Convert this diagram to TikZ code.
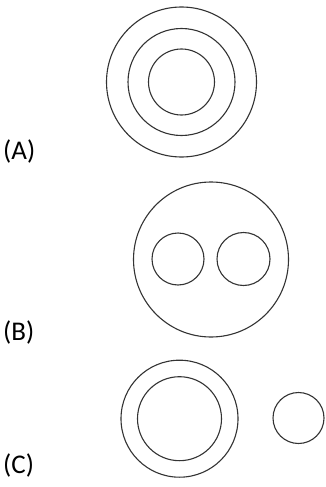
\documentclass[tikz,border=0pt]{standalone}
\usepackage{fontspec}
\setmainfont{Carlito}
\usepackage{tikz}
\usetikzlibrary{positioning}
\tikzset{
  ring/.style={circle, draw=black!80, line width=1.1pt, inner sep=0pt},
  optlabel/.style={anchor=west, inner sep=0pt, font=\fontsize{27}{30}\selectfont},
}

\begin{document}
\begin{tikzpicture}[x=1pt, y=-1pt]
  \useasboundingbox (0,0) rectangle (326,487);
  % option A: three concentric circles
  \node[ring, minimum size=150pt] (aOut) at (181.5,82) {};
  \node[ring, minimum size=107pt] (aMid) at (aOut.center) {};
  \node[ring, minimum size=66pt] (aIn) at (aOut.center) {};
  \node[optlabel] (labA) at (3,151) {(A)};
  % option B: two circles inside one
  \node[ring, minimum size=155pt] (bOut) at (211,259.5) {};
  \node[ring, minimum size=52pt] (bLeft) at (178,259) {};
  \node[ring, minimum size=53pt] (bRight) at (243.5,259) {};
  \node[optlabel] (labB) at (3,332) {(B)};
  % option C: two concentric circles and a separate one
  \node[ring, minimum size=117pt] (cOut) at (179.5,418.7) {};
  \node[ring, minimum size=84pt] (cIn) at (cOut.center) {};
  \node[ring, minimum size=51pt] (cSep) at (298.5,418) {};
  \node[optlabel] (labC) at (3,465) {(C)};
\end{tikzpicture}
\end{document}
